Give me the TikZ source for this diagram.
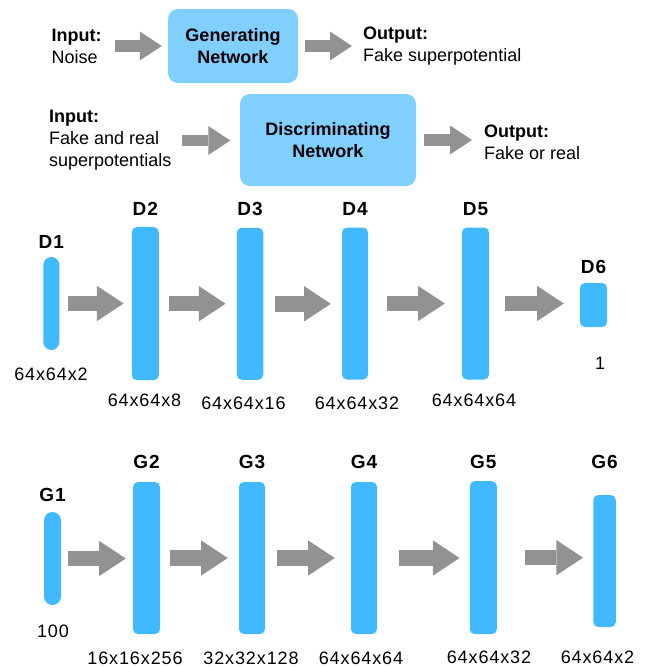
\documentclass[tikz,border=0pt]{standalone}
\usepackage{fontspec}
\setmainfont{Liberation Sans}
\usetikzlibrary{arrows.meta}
\definecolor{netblue}{HTML}{80CFFF}
\definecolor{layerblue}{HTML}{40B9FF}
\definecolor{flowgray}{HTML}{929292}

\begin{document}
\begin{tikzpicture}[x=1pt, y=-1pt,
	every node/.style={inner sep=0pt, font=\fontsize{18}{22}\selectfont},
	net/.style={fill=netblue, rounded corners=10pt, align=center, font=\fontsize{18}{22}\selectfont\bfseries},
	layer/.style={fill=layerblue},
	title/.style={font=\fontsize{19}{22}\selectfont\bfseries\addfontfeatures{LetterSpace=5}},
	size/.style={font=\fontsize{18}{22}\selectfont\addfontfeatures{LetterSpace=5}},
	flow/.style={draw=flowgray, line width=11.6pt, -{Triangle[length=22pt, width=29pt, line width=0pt]}},
	bigflow/.style={draw=flowgray, line width=15.4pt, -{Triangle[length=26.7pt, width=35.3pt, line width=0pt]}}]
	\useasboundingbox (0,0) rectangle (647,667);
	% overview of the two networks
	\node [anchor=west, align=left] (noise) at (51.5,46) {\textbf{Input:}\\Noise};
	\node [net, minimum width=130pt, minimum height=74pt] (gen) at (233,46) {Generating\\Network};
	\node [anchor=west, align=left] (fake) at (363,46) {\textbf{Output:}\\Fake superpotential};
	\node [anchor=west, align=left] (mixed) at (49,140.5) {\textbf{Input:}\\Fake and real\\superpotentials};
	\node [net, minimum width=176pt, minimum height=92pt] (disc) at (328,140) {Discriminating\\Network};
	\node [anchor=west, align=left] (verdict) at (484,142) {\textbf{Output:}\\Fake or real};
	\draw [flow, shorten <=13pt, shorten >=6pt] (noise) -- (noise -| gen.west);
	\draw [flow, shorten <=7pt, shorten >=11pt] (gen) -- (gen -| fake.west);
	\draw [flow, shorten <=11pt, shorten >=9.5pt] (mixed) -- (mixed -| disc.west);
	\draw [flow, shorten <=8pt, shorten >=12pt] (disc) -- (disc -| verdict.west);
	% layers
	\foreach \name/\x/\y/\w/\h/\r/\ty/\sx/\sy/\size in {
		D1/51.3/303.5/16pt/93pt/8pt/242/51/374/{64x64x2},
		D2/145.3/303.7/27pt/153pt/5pt/209/144.5/400.3/{64x64x8},
		D3/250/303.8/26.5pt/152pt/5pt/209/243.5/403/{64x64x16},
		D4/355/303.5/26pt/152pt/5pt/209/357/403/{64x64x32},
		D5/475.5/303.5/27pt/152pt/5pt/209/474/400/{64x64x64},
		D6/593.5/305/27pt/44pt/5pt/267/600/363/{1},
		G1/52.5/558.5/17pt/93pt/8.5pt/495/53/631/{100},
		G2/146.5/558/27pt/152pt/5pt/462/135/658/{16x16x256},
		G3/252/558/26pt/152pt/5pt/462/251/658/{32x32x128},
		G4/364/558/26pt/152pt/5pt/462/361/658/{64x64x64},
		G5/483.3/557.7/27pt/153pt/5pt/462/489/657/{64x64x32},
		G6/604.5/561/22.5pt/132pt/5pt/462/597.5/657/{64x64x2}
	}
	{
		\node [layer, minimum width=\w, minimum height=\h, rounded corners=\r] (\name) at (\x,\y) {};
		\node [title] (\name title) at (\x,\ty) {\name};
		\node [size] (\name size) at (\sx,\sy) {\size};
	}
	\foreach \no/\nt/\s/\e in {
		D1/D2/8/8, D2/D3/10/11, D3/D4/12/11, D4/D5/19/17, D5/D6/16/16,
		G1/G2/7/7, G2/G3/10/11, G3/G4/12/16, G4/G5/22/10, G5/G6/28/10
	}
	{
		\draw [bigflow, shorten <=\s pt, shorten >=\e pt] (\no) -- (\no -| \nt.west);
	}
\end{tikzpicture}
\end{document}
